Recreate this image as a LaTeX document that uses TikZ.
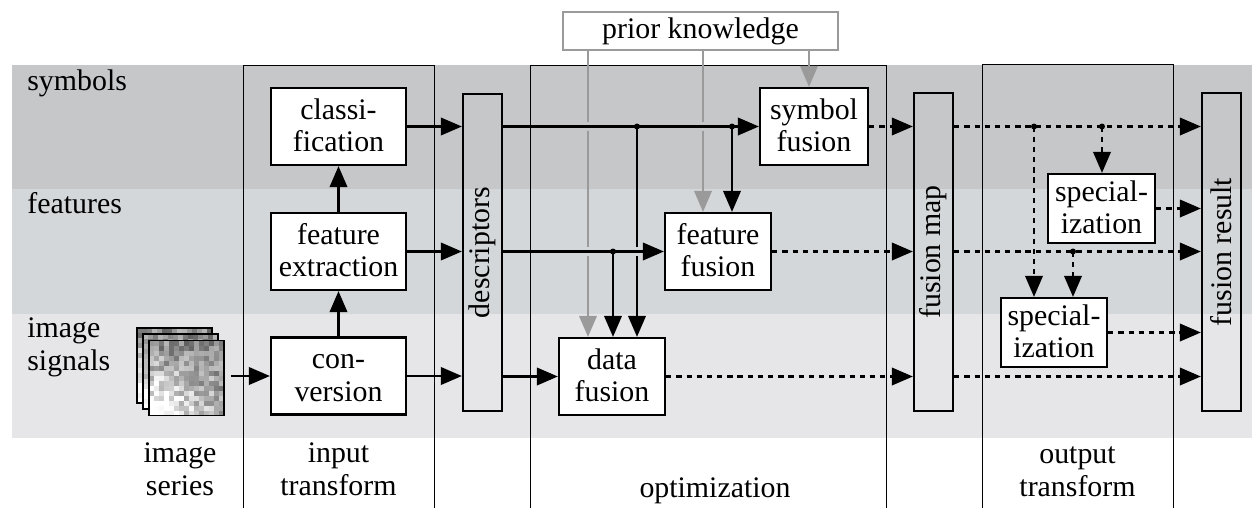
\documentclass[tikz,border=0pt]{standalone}
\usepackage{fontspec}
\setmainfont{Liberation Serif}
\usetikzlibrary{arrows.meta,calc}
\definecolor{bandS}{HTML}{C6C7C9}
\definecolor{bandF}{HTML}{D4D7D9}
\definecolor{bandI}{HTML}{E6E6E8}
\definecolor{pk}{HTML}{9A9A9A}
\newcommand\lstr{\rule[-2pt]{0pt}{14pt}}
\newcommand\imgtex[2]{%
  \foreach \i in {0,...,14}{\foreach \j in {0,...,14}{%
    \pgfmathsetmacro\p{max(0,min(62,46-40*(\j/14)*(1.3-\i/14)+36*(rnd-0.5)))}%
    \fill[black!\p] ({#1+5*\i},{#2+5*\j}) rectangle ++(5.3,5.3);
  }}}
\begin{document}
\begin{tikzpicture}[x=0.02cm,y=-0.02cm,
  font=\fontsize{17pt}{18.5pt}\selectfont,
  box/.style={draw,line width=1.3pt,fill=white,inner sep=0pt,align=center,minimum height=1.54cm},
  bar/.style={draw,line width=1.3pt,inner sep=0pt,minimum width=0.78cm,minimum height=6.36cm},
  colframe/.style={line width=0.55pt},
  arr/.style={line width=1.25pt,-{Triangle[length=12pt,width=10pt]}},
  darr/.style={arr,dash pattern=on 3pt off 2.8pt},
  garr/.style={arr,draw=pk},
  jdot/.style={circle,fill,inner sep=0pt,minimum size=0.12cm},
  lbl/.style={inner sep=0pt,align=center},
  imgsq/.style={draw,line width=0.9pt,inner sep=0pt,minimum size=1.5cm}
]
\useasboundingbox (0,0) rectangle (1252,508);
% bands
\fill[bandS] (12,65) rectangle (1252,189);
\fill[bandF] (12,189) rectangle (1252,314);
\fill[bandI] (12,314) rectangle (1252,438);
% column frames
\draw[colframe] (243.5,508) -- (243.5,65.5) -- (434.5,65.5) -- (434.5,508);
\draw[colframe] (530.5,508) -- (530.5,65.5) -- (886.5,65.5) -- (886.5,508);
\draw[colframe] (982.5,508) -- (982.5,64.5) -- (1173.5,64.5) -- (1173.5,508);
% image series
\pgfmathsetseed{11}
\imgtex{137}{328}
\node[imgsq] (imgb) at (174.5,365.5) {};
\imgtex{143}{334}
\node[imgsq] (imgm) at (180.5,371.5) {};
\imgtex{149}{340.5}
\node[imgsq] (imgf) at (186.5,378) {};
\coordinate (imgout) at ([xshift=0.12cm]imgf.east);
% boxes
\node[box,minimum width=2.7cm] (cls) at (338.5,126.5) {\lstr classi-\\\lstr fication};
\node[box,minimum width=2.7cm] (fext) at (338.5,251.5) {\lstr feature\\\lstr extraction};
\node[box,minimum width=2.7cm] (conv) at (338.5,376) {\lstr con-\\\lstr version};
\node[bar,minimum height=6.34cm] (desc) at (482.5,252.5) {};
\node[rotate=90,inner sep=0pt] (descl) at (desc.center) {descriptors};
\node[box,draw=pk,minimum width=5.5cm,minimum height=0.76cm] (prior) at (700.5,31) {prior knowledge};
\node[box,minimum width=2.16cm] (symf) at (814,126.5) {\lstr symbol\\\lstr fusion};
\node[box,minimum width=2.12cm] (featf) at (718,251.5) {\lstr feature\\\lstr fusion};
\node[box,minimum width=2.12cm] (dataf) at (612,376.5) {\lstr data\\\lstr fusion};
\node[bar] (fmap) at (933.5,252) {};
\node[rotate=90,inner sep=0pt] (fmapl) at (fmap.center) {fusion map};
\node[box,minimum width=2.14cm,minimum height=1.38cm] (spec1) at (1101.5,208.5) {\lstr special-\\\lstr ization};
\node[box,minimum width=2.12cm,minimum height=1.38cm] (spec2) at (1054,332.5) {\lstr special-\\\lstr ization};
\node[bar] (fres) at (1221.5,252) {};
\node[rotate=90,inner sep=0pt] (fresl) at (fres.center) {fusion result};
% input transform connectors
\draw[arr] (imgout |- conv.west) -- (conv.west);
\draw[arr] (conv.north) -- (fext.south);
\draw[arr] (fext.north) -- (cls.south);
\draw[arr] (cls.east) -- (cls.east -| desc.west);
\draw[arr] (fext.east) -- (fext.east -| desc.west);
\draw[arr] (conv.east) -- (conv.east -| desc.west);
% junctions
\coordinate (jA) at (637,126.5);
\coordinate (jB) at (732,126.5);
\coordinate (jC) at (613,251.5);
\coordinate (g1) at (588,0);
\coordinate (g2) at (703,0);
\coordinate (g3) at (809,0);
% prior knowledge
\draw[garr] (prior.south -| g1) -- (g1 |- dataf.north);
\draw[garr] (prior.south -| g2) -- (g2 |- featf.north);
\draw[garr] (prior.south -| g3) -- (g3 |- symf.north);
\draw[arr] (jA) -- (jA |- dataf.north);
% crossing gaps
\fill[bandS] (584,122) rectangle (592,131);
\fill[bandS] (699,122) rectangle (707,131);
\fill[bandF] (584,247) rectangle (592,256);
\fill[bandF] (633,247) rectangle (641,256);
% optimization connectors
\draw[arr] (desc.east |- symf.west) -- (symf.west);
\draw[arr] (desc.east |- featf.west) -- (featf.west);
\draw[arr] (desc.east |- dataf.west) -- (dataf.west);
\draw[arr] (jB) -- (jB |- featf.north);
\draw[arr] (jC) -- (jC |- dataf.north);
\node[jdot] (dA) at (jA) {};
\node[jdot] (dB) at (jB) {};
\node[jdot] (dC) at (jC) {};
% to fusion map
\draw[darr] (symf.east) -- (symf.east -| fmap.west);
\draw[darr] (featf.east) -- (featf.east -| fmap.west);
\draw[darr] (dataf.east) -- (dataf.east -| fmap.west);
% output transform
\coordinate (jD) at (1034,126.5);
\coordinate (jE) at (1102,126.5);
\coordinate (jF) at (1073,251.5);
\draw[darr] (fmap.east |- symf.east) -- (fres.west |- symf.east);
\draw[darr] (fmap.east |- featf.east) -- (fres.west |- featf.east);
\draw[darr] (fmap.east |- dataf.east) -- (fres.west |- dataf.east);
\draw[darr] (jE) -- (jE |- spec1.north);
\draw[darr] (jD) -- (jD |- spec2.north);
\draw[darr] (jF) -- (jF |- spec2.north);
\draw[darr] (spec1.east) -- (spec1.east -| fres.west);
\draw[darr] (spec2.east) -- (spec2.east -| fres.west);
\node[jdot] (dD) at (jD) {};
\node[jdot] (dE) at (jE) {};
\node[jdot] (dF) at (jF) {};
% labels
\node[anchor=base west,inner sep=0pt] (lsym) at (27,90) {symbols};
\node[anchor=base west,inner sep=0pt] (lfeat) at (27,213) {features};
\node[lbl,anchor=west,align=left] (lsig) at (27,346.8) {\lstr image\\\lstr signals};
\node[lbl] (lser) at (180,470.3) {\lstr image\\\lstr series};
\node[lbl] (lin) at (338.5,470.3) {\lstr input\\\lstr transform};
\node[anchor=base,inner sep=0pt] (lopt) at (715,497) {optimization};
\node[lbl] (lout) at (1077.5,471) {\lstr output\\\lstr transform};
\end{tikzpicture}
\end{document}
